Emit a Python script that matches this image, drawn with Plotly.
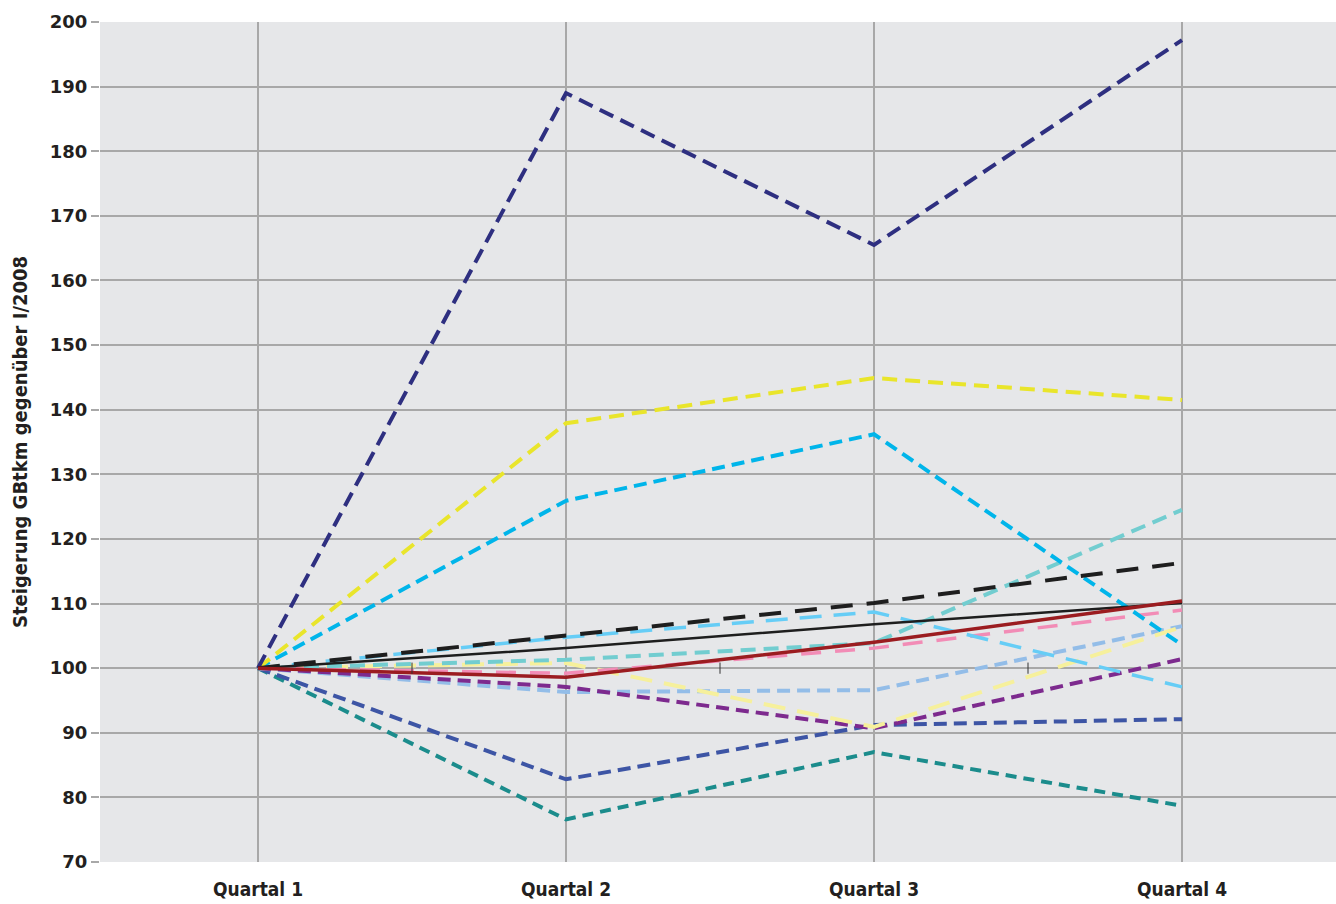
import plotly.graph_objects as go

categories = ["Quartal 1", "Quartal 2", "Quartal 3", "Quartal 4"]

s_navy = [100, 189.0, 165.5, 197.2]
s_yellow = [100, 137.9, 144.9, 141.5]
s_cyan = [100, 125.9, 136.2, 103.6]
s_teal_light = [100, 101.3, 103.9, 124.5]
s_black_dash = [100, 105.0, 110.1, 116.3]
s_sky = [100, 104.8, 108.7, 97.1]
s_pink = [100, 99.2, 103.1, 109.0]
s_paleyellow = [100, 100.8, 90.9, 106.4]
s_lightblue = [100, 96.3, 96.6, 106.5]
s_purple = [100, 97.1, 90.7, 101.4]
s_blue = [100, 82.8, 91.2, 92.1]
s_teal_dark = [100, 76.6, 87.0, 78.7]
s_black_solid = [100, 103.1, 106.8, 110.1]
s_red = [100, 98.6, 104.0, 110.4]

yticks = list(range(70, 201, 10))

series = [
    (s_teal_dark, "#1b8c8c", 4.0, "11px,7px"),
    (s_blue, "#3d55a5", 4.0, "13px,7px"),
    (s_lightblue, "#93bde8", 4.0, "13px,7px"),
    (s_purple, "#7d2a8e", 4.0, "13px,7px"),
    (s_paleyellow, "#f6f09c", 4.0, "22px,12px"),
    (s_pink, "#f28cb6", 3.5, "20px,14px"),
    (s_sky, "#66cdf6", 3.5, "22px,12px"),
    (s_teal_light, "#72cdd0", 4.0, "15px,8px"),
    (s_cyan, "#00b5ea", 4.0, "13px,7px"),
    (s_yellow, "#e9e52b", 4.0, "15px,8px"),
    (s_navy, "#2e2f80", 4.0, "15px,8px"),
    (s_black_dash, "#1e1e1e", 4.0, "22px,14px"),
    (s_black_solid, "#1e1e1e", 2.5, "solid"),
    (s_red, "#9b1c20", 3.5, "solid"),
]

xs = list(range(len(categories)))

fig = go.Figure()
for vals, col, w, dash in series:
    fig.add_trace(go.Scatter(x=xs, y=vals, mode="lines",
                             line=dict(color=col, width=w, dash=dash),
                             showlegend=False, hoverinfo="skip"))

# small tick marks between categories on the 100 line
fig.add_trace(go.Scatter(x=[0.5, 1.5, 2.5], y=[100, 100, 100], mode="markers",
                         marker=dict(symbol="line-ns", size=8,
                                     line=dict(color="#333333", width=1)),
                         showlegend=False, hoverinfo="skip"))

fig.update_layout(
    width=1336, height=904,
    margin=dict(l=100, r=0, t=22, b=42),
    paper_bgcolor="white",
    plot_bgcolor="#e6e7e9",
    font=dict(family="DejaVu Sans", size=16, color="#231f20"),
    xaxis=dict(
        range=[-0.513, 3.5],
        tickvals=xs, ticktext=["<b>%s</b>" % c for c in categories],
        showgrid=True, gridcolor="#a8a8a8", gridwidth=1.5,
        zeroline=False, showline=False, ticks="", automargin=False,
        ticklabelstandoff=14,
        tickfont=dict(family="DejaVu Sans Condensed", size=19, color="#231f20"),
    ),
    yaxis=dict(
        range=[70, 200], automargin=False,
        tickvals=yticks, ticktext=["<b>%d</b>" % v for v in yticks],
        showgrid=True, gridcolor="#a8a8a8", gridwidth=1.5,
        zeroline=False, showline=False,
        ticks="outside", ticklen=8, tickcolor="#a8a8a8", tickwidth=1.5,
        tickfont=dict(family="DejaVu Sans", size=18, color="#231f20"),
        title=dict(text="<b>Steigerung GBtkm gegenüber I/2008</b>",
                   font=dict(family="DejaVu Sans Condensed", size=20, color="#231f20"),
                   standoff=16),
    ),
)

fig.write_html("out.html", config={"displayModeBar": False},
               post_script="document.body.style.margin='0';document.body.style.overflow='hidden';")
